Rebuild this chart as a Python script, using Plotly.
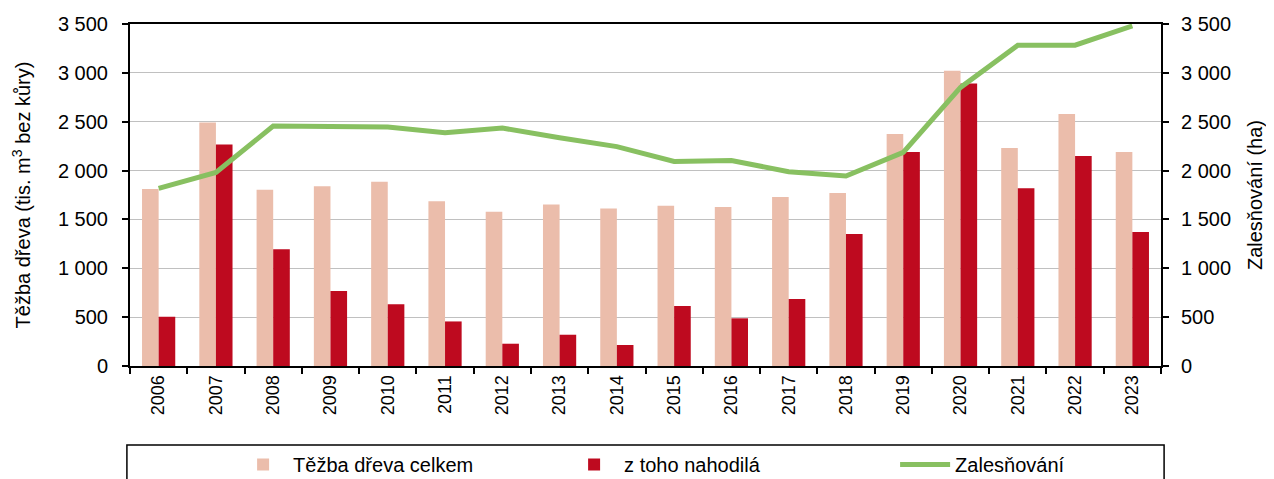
import plotly.graph_objects as go

years = [str(y) for y in range(2006, 2024)]
tezba_celkem = [1811, 2493, 1804, 1839, 1886, 1685, 1579, 1654, 1613, 1640, 1627, 1729, 1770, 2374, 3021, 2230, 2578, 2189]
tezba_nahodila = [504, 2268, 1194, 767, 631, 456, 228, 320, 215, 614, 488, 685, 1350, 2189, 2892, 1818, 2148, 1371]
zalesnovani = [1817, 1981, 2455, 2450, 2445, 2387, 2435, 2336, 2245, 2093, 2103, 1988, 1944, 2186, 2851, 3283, 3283, 3480]

FONT = "Liberation Sans, Arial, sans-serif"

fig = go.Figure()
fig.add_trace(go.Bar(x=years, y=tezba_celkem, name="Těžba dřeva celkem",
                     marker=dict(color="#EBBDAB", line=dict(width=0))))
fig.add_trace(go.Bar(x=years, y=tezba_nahodila, name="z toho nahodilá",
                     marker=dict(color="#BE0A1F", line=dict(width=0))))
fig.add_trace(go.Scatter(x=years, y=zalesnovani, name="Zalesňování", yaxis="y2",
                         mode="lines", line=dict(color="#88C061", width=5)))

fig.update_layout(
    width=1274, height=479,
    margin=dict(l=122, r=121, t=16, b=121, autoexpand=False),
    plot_bgcolor="white", paper_bgcolor="white",
    font=dict(family=FONT, size=19, color="black"),
    separators=", ",
    barmode="group", bargap=0.42, bargroupgap=0,
    xaxis=dict(type="category", tickson="boundaries", ticks="outside", ticklen=6,
               tickwidth=2, tickcolor="black", showline=True, linecolor="black",
               linewidth=2, mirror=True, tickangle=-90, showgrid=False,
               automargin=False, tickfont=dict(size=18)),
    yaxis=dict(range=[0, 3500], dtick=500, separatethousands=True,
               showgrid=True, gridcolor="#C0C0C0", gridwidth=1,
               showline=True, linecolor="black", linewidth=2,
               ticks="outside", ticklen=6, tickwidth=1.5, tickcolor="black",
               ticklabelstandoff=10,
               zeroline=False, automargin=False, tickfont=dict(size=20),
               title=dict(text="Těžba dřeva (tis. m<sup>3</sup> bez kůry)", standoff=22,
                          font=dict(size=20))),
    yaxis2=dict(range=[0, 3500], dtick=500, separatethousands=True,
                overlaying="y", side="right", showgrid=False,
                showline=True, linecolor="black", linewidth=2,
                ticks="outside", ticklen=6, tickwidth=1.5, tickcolor="black",
                ticklabelstandoff=8,
                zeroline=False, automargin=False, tickfont=dict(size=20),
                title=dict(text="Zalesňování (ha)", standoff=18, font=dict(size=20))),
    legend=dict(orientation="h", x=0.10, y=-0.231, xanchor="left", yanchor="top",
                entrywidth=266, entrywidthmode="pixels", itemwidth=50,
                font=dict(size=20), bgcolor="rgba(0,0,0,0)"),
    showlegend=True,
)

fig.add_shape(type="rect", xref="paper", yref="paper",
              x0=-0.003, x1=1.003, y0=-0.40, y1=-0.231,
              line=dict(color="black", width=1.5), fillcolor="rgba(0,0,0,0)", layer="below")

fig.write_html("out.html")
